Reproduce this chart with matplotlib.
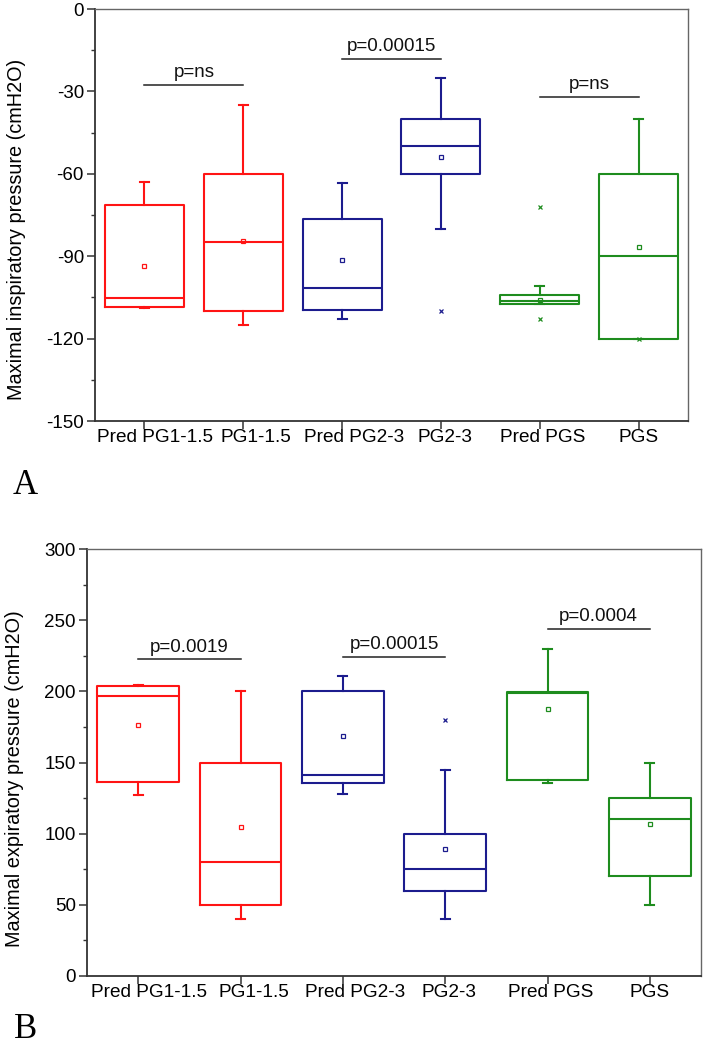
import matplotlib
matplotlib.use("Agg")
import matplotlib.pyplot as plt
from matplotlib.ticker import MultipleLocator
from matplotlib.transforms import ScaledTranslation, blended_transform_factory

plt.rcParams['font.family'] = ['Liberation Sans', 'DejaVu Sans']
plt.rcParams['axes.unicode_minus'] = False

categories = ["Pred PG1-1.5", "PG1-1.5", "Pred PG2-3", "PG2-3", "Pred PGS", "PGS"]
colors = ["#FF1414", "#FF1414", "#1C1C8E", "#1C1C8E", "#1E8C1E", "#1E8C1E"]

# Panel A: Maximal inspiratory pressure
mip_whislo = [-109, -115, -113, -80, -107.5, -120]
mip_q1 = [-108.5, -110, -109.5, -60, -107.5, -120]
mip_med = [-105.3, -85, -101.5, -50, -106.3, -90]
mip_q3 = [-71.5, -60, -76.5, -40, -104, -60]
mip_whishi = [-63, -35, -63.5, -25, -101, -40]
mip_mean = [-93.5, -84.5, -91.5, -54, -106, -86.5]
mip_fliers = [[], [], [], [-110], [-72, -113], [-120]]
mip_sig = [(1, 2, -27.7, "p=ns"), (3, 4, -18.3, "p=0.00015"), (5, 6, -32.1, "p=ns")]

# Panel B: Maximal expiratory pressure
mep_whislo = [127, 40, 128, 40, 135.5, 50]
mep_q1 = [136, 50, 135.5, 60, 138, 70]
mep_med = [197, 80, 141, 75, 198.5, 110]
mep_q3 = [203.5, 150, 200.5, 100, 199.5, 125]
mep_whishi = [204.5, 200, 211, 145, 230, 150]
mep_mean = [176, 104.5, 168.5, 89.5, 187.5, 107]
mep_fliers = [[], [], [], [180], [], []]
mep_sig = [(1, 2, 222.5, "p=0.0019"), (3, 4, 224.4, "p=0.00015"), (5, 6, 244, "p=0.0004")]

fig = plt.figure(figsize=(7.08, 10.49), dpi=100)
axA = fig.add_axes([95/708, 1-421/1049, (688-95)/708, (421-9)/1049])
axB = fig.add_axes([87/708, 1-976/1049, (701-87)/708, (976-549)/1049])

label_shift_px = [11, 13, 12, 4, 3, 0]


def draw(ax, whislo, q1, med, q3, whishi, mean, fliers, sig, ylim, major, ylabel,
         text_off, label_xy):
    for i in range(len(categories)):
        st = [dict(whislo=whislo[i], q1=q1[i], med=med[i], q3=q3[i],
                   whishi=whishi[i], mean=mean[i], fliers=fliers[i])]
        c = colors[i]
        ax.bxp(st, positions=[i + 1], widths=0.8, capwidths=0.09,
               showmeans=True, showfliers=True,
               boxprops=dict(color=c, linewidth=1.5),
               medianprops=dict(color=c, linewidth=1.5),
               whiskerprops=dict(color=c, linewidth=1.5),
               capprops=dict(color=c, linewidth=1.5),
               meanprops=dict(marker='s', markerfacecolor='none', markeredgecolor=c,
                              markersize=3.2, markeredgewidth=0.9),
               flierprops=dict(marker='x', markeredgecolor=c, markersize=3.5,
                               markeredgewidth=0.9))
    for x1, x2, y, t in sig:
        ax.plot([x1, x2], [y, y], color='#222222', linewidth=1.1)
        ax.text((x1 + x2) / 2, y + text_off, t, ha='center', va='bottom',
                fontsize=13.5, color='#111111')
    ax.set_xlim(0.5, 6.5)
    ax.set_ylim(*ylim)
    ax.set_xticks(range(1, 7))
    ax.tick_params(axis='x', labelbottom=False)
    blend = blended_transform_factory(ax.transData, ax.transAxes)
    for i, (cat, dx) in enumerate(zip(categories, label_shift_px)):
        tr = blend + ScaledTranslation(dx / 100, -8 / 100, fig.dpi_scale_trans)
        ax.text(i + 1, 0, cat, transform=tr, ha='center', va='top', fontsize=13.7,
                clip_on=False)
    ax.yaxis.set_major_locator(MultipleLocator(major))
    ax.yaxis.set_minor_locator(MultipleLocator(major / 2))
    ax.tick_params(axis='y', which='major', direction='out', length=6, width=1.1,
                   labelsize=13.5, color='#333333', pad=2)
    ax.tick_params(axis='y', which='minor', direction='out', length=3, width=1.0,
                   color='#333333')
    ax.tick_params(axis='x', direction='out', length=6, width=1.1,
                   color='#333333', pad=3)
    ax.set_ylabel(ylabel, fontsize=14.3)
    ax.yaxis.set_label_coords(*label_xy)
    for s in ['left', 'bottom']:
        ax.spines[s].set_color('#333333')
        ax.spines[s].set_linewidth(1.3)
    for s in ['top', 'right']:
        ax.spines[s].set_color('#666666')
        ax.spines[s].set_linewidth(1.0)


draw(axA, mip_whislo, mip_q1, mip_med, mip_q3, mip_whishi, mip_mean, mip_fliers,
     mip_sig, (-150, 0), 30, "Maximal inspiratory pressure (cmH2O)", 1.5,
     ((26 - 95) / 593, (421 - 229) / 412))
draw(axB, mep_whislo, mep_q1, mep_med, mep_q3, mep_whishi, mep_mean, mep_fliers,
     mep_sig, (0, 300), 50, "Maximal expiratory pressure (cmH2O)", 2.5,
     ((24 - 87) / 614, (976 - 779) / 427))

fig.text(13/708, 1-494/1049, "A", fontsize=25, family=['Liberation Serif', 'DejaVu Serif'],
         ha='left', va='baseline')
fig.text(14/708, 1-1038/1049, "B", fontsize=25, family=['Liberation Serif', 'DejaVu Serif'],
         ha='left', va='baseline')

fig.savefig("out.png", dpi=100)
